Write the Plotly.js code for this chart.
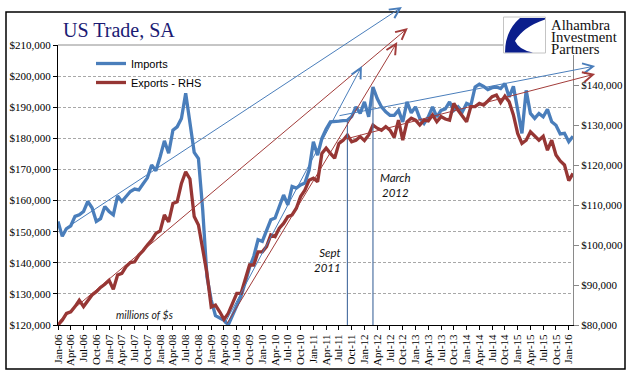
<!DOCTYPE html>
<html>
<head>
<meta charset="utf-8">
<script src="https://cdn.plot.ly/plotly-3.0.1.min.js"></script>
<style>html,body{margin:0;padding:0;background:#fff}#chart{width:641px;height:381px}</style>
</head>
<body>
<div id="chart"></div>
<script>
// ---------------- data ----------------
const months = [
 'Jan-06','Feb-06','Mar-06','Apr-06','May-06','Jun-06','Jul-06','Aug-06','Sep-06','Oct-06','Nov-06','Dec-06',
 'Jan-07','Feb-07','Mar-07','Apr-07','May-07','Jun-07','Jul-07','Aug-07','Sep-07','Oct-07','Nov-07','Dec-07',
 'Jan-08','Feb-08','Mar-08','Apr-08','May-08','Jun-08','Jul-08','Aug-08','Sep-08','Oct-08','Nov-08','Dec-08',
 'Jan-09','Feb-09','Mar-09','Apr-09','May-09','Jun-09','Jul-09','Aug-09','Sep-09','Oct-09','Nov-09','Dec-09',
 'Jan-10','Feb-10','Mar-10','Apr-10','May-10','Jun-10','Jul-10','Aug-10','Sep-10','Oct-10','Nov-10','Dec-10',
 'Jan-11','Feb-11','Mar-11','Apr-11','May-11','Jun-11','Jul-11','Aug-11','Sep-11','Oct-11','Nov-11','Dec-11',
 'Jan-12','Feb-12','Mar-12','Apr-12','May-12','Jun-12','Jul-12','Aug-12','Sep-12','Oct-12','Nov-12','Dec-12',
 'Jan-13','Feb-13','Mar-13','Apr-13','May-13','Jun-13','Jul-13','Aug-13','Sep-13','Oct-13','Nov-13','Dec-13',
 'Jan-14','Feb-14','Mar-14','Apr-14','May-14','Jun-14','Jul-14','Aug-14','Sep-14','Oct-14','Nov-14','Dec-14',
 'Jan-15','Feb-15','Mar-15','Apr-15','May-15','Jun-15','Jul-15','Aug-15','Sep-15','Oct-15','Nov-15','Dec-15',
 'Jan-16','Feb-16'];

const tickLabels = [
 'Jan-06','Apr-06','Jul-06','Oct-06','Jan-07','Apr-07','Jul-07','Oct-07','Jan-08','Apr-08','Jul-08','Oct-08',
 'Jan-09','Apr-09','Jul-09','Oct-09','Jan-10','Apr-10','Jul-10','Oct-10','Jan-11','Apr-11','Jul-11','Oct-11',
 'Jan-12','Apr-12','Jul-12','Oct-12','Jan-13','Apr-13','Jul-13','Oct-13','Jan-14','Apr-14','Jul-14','Oct-14',
 'Jan-15','Apr-15','Jul-15','Oct-15','Jan-16'];

// millions of $ (left axis)
const imports = [
 153300,148500,151000,151900,154900,155400,156500,159700,157700,153300,154200,158100,
 156500,155400,161500,159700,161300,162900,163700,163400,165400,167300,171400,169600,
 174100,179200,175200,182600,183700,186400,194500,184500,175500,173500,157000,135500,
 128000,123000,122200,121500,120000,122900,126300,129300,133700,138500,142100,147400,
 146900,150100,153800,154400,158100,161800,158600,164500,164000,165000,165600,169800,
 178900,174600,180000,183000,185300,185300,185500,185700,185800,187000,190100,188000,
 191700,186900,196500,192800,190100,188500,187400,187400,189000,185300,191700,188200,
 190100,186400,184800,186900,190100,186900,189000,189500,191700,189000,190100,188500,
 191200,190600,196500,197400,196700,195700,196300,196500,196000,197600,193300,196700,
 189000,181600,195400,188000,186400,188000,186900,189300,185300,184200,181400,181600,
 178900,180700];

// millions of $ (right axis)
const exportsRHS = [
 80000,81200,82900,83300,84600,86200,84600,86200,87500,88300,89400,90200,
 91200,88900,92500,92900,94600,95600,95800,97500,98600,100000,101200,102900,
 103500,107500,105800,110400,110800,115400,118300,116500,107100,105000,98700,92900,
 84500,85000,83300,81400,82900,85400,87900,87900,91200,95000,95000,98300,
 98300,99600,102500,102100,104200,105400,107100,107500,109200,112100,113700,116200,
 116700,115800,122900,124200,122900,121700,125400,126200,127500,125800,126200,127100,
 126100,127500,130000,129200,128700,129600,128700,126900,131200,126200,130800,131700,
 131200,130000,131200,131000,132500,130800,132100,131500,131200,135400,133700,132100,
 130800,134600,134600,135400,135000,136000,137100,137500,135600,137200,135800,132500,
 127900,125400,126200,128300,127100,126200,127200,123700,126200,122500,121000,120000,
 116100,117900];

// right-axis ticks
const rhsTickVals = [80000, 90000, 100000, 110000, 120000, 130000, 140000];
const rhsTickText = ['$80,000', '$90,000', '$100,000', '$110,000', '$120,000', '$130,000', '$140,000'];

// event markers
const eventMonths = ['Sep-11', 'Mar-12'];
const eventLabels = ['Sept<br>2011', 'March<br>2012'];

// hand-drawn trend arrows: [month index, value] for tail and head, and the axis used
const trendSeries = ['imports', 'exports', 'imports', 'exports', 'imports', 'exports'];
const trendTail = [[1.2,150500],[0,80750],[39.0,120000],[39.5,80000],[65.8,187200],[65.8,126000]];
const trendHead = [[80.8,222200],[82.2,154250],[71.4,203250],[79.7,150750],[126.2,203250],[126.2,142750]];

// ---------------- styling ----------------
const W = 641, H = 381, L = 58, R = 68, T = 45, B = 56;
const PW = W - L - R, PH = H - T - B;
const PX = x => (x - L) / PW;
const PY = y => (H - B - y) / PH;

const BLUE = '#4a7ebb', RED = '#963634';
const SERIF = 'Liberation Serif, Times New Roman, serif';
const SANS = 'Liberation Sans, Arial, sans-serif';
const ITAL = 'Lato, Carlito, Liberation Sans, sans-serif';

const traces = [
  {x: months, y: imports, name: 'Imports', type: 'scatter', mode: 'lines',
   line: {color: BLUE, width: 3.3}, yaxis: 'y', hoverinfo: 'skip'},
  {x: months, y: exportsRHS, name: 'Exports - RHS', type: 'scatter', mode: 'lines',
   line: {color: RED, width: 3.3}, yaxis: 'y2', hoverinfo: 'skip'}
];

const shapes = [];
const annotations = [];

// vertical event lines from axis up to the imports line
eventMonths.forEach((m) => {
  const i = months.indexOf(m);
  shapes.push({type: 'line', xref: 'x', yref: 'y', x0: i, x1: i, y0: 120000, y1: imports[i],
    line: {color: '#4f73a3', width: 1.2}, layer: 'above'});
});

// plot-area top border
shapes.push({type: 'line', xref: 'paper', yref: 'paper', x0: 0, x1: 1, y0: 1, y1: 1,
  line: {color: '#8c8c8c', width: 1}, layer: 'above'});

// outer chart border
shapes.push({type: 'rect', xref: 'paper', yref: 'paper', x0: PX(6), x1: PX(625), y0: PY(369), y1: PY(12),
  line: {color: '#000', width: 1.5}, fillcolor: 'rgba(0,0,0,0)', layer: 'above'});

// logo background + box
shapes.push({type: 'rect', xref: 'paper', yref: 'paper', x0: PX(546), x1: PX(623), y0: PY(55), y1: PY(15),
  line: {width: 0}, fillcolor: '#fff', layer: 'above'});
shapes.push({type: 'rect', xref: 'paper', yref: 'paper', x0: PX(503.5), x1: PX(545.5), y0: PY(53), y1: PY(17),
  line: {color: '#c4c4c4', width: 1}, fillcolor: '#fff', layer: 'above'});
const p = (x, y) => PX(x).toFixed(4) + ',' + PY(y).toFixed(4);
shapes.push({type: 'path', xref: 'paper', yref: 'paper', layer: 'above',
  path: 'M' + p(520,18) + ' L' + p(545,18) + ' L' + p(545,19.5) + ' Q' + p(523,27) + ' ' + p(515,41) +
        ' Q' + p(519,50) + ' ' + p(533,52.5) + ' L' + p(505,52.5) + ' Q' + p(505,31) + ' ' + p(520,18) + ' Z',
  fillcolor: '#0b1e8c', line: {width: 0}});

// trend arrows
trendSeries.forEach((s, k) => {
  const yr = s === 'imports' ? 'y' : 'y2';
  annotations.push({xref: 'x', yref: yr, axref: 'x', ayref: yr,
    x: trendHead[k][0], y: trendHead[k][1], ax: trendTail[k][0], ay: trendTail[k][1],
    text: '', showarrow: true, arrowhead: 5, arrowsize: 2, arrowwidth: 1,
    arrowcolor: s === 'imports' ? BLUE : '#a23c3a', standoff: 0, startstandoff: 0});
});

// event labels
annotations.push({xref: 'paper', yref: 'paper', x: PX(343), y: PY(260), xanchor: 'right', yanchor: 'middle',
  align: 'right', text: '<i>' + eventLabels[0] + '</i>', showarrow: false,
  font: {family: ITAL, size: 11.5, color: '#111'}});
annotations.push({xref: 'paper', yref: 'paper', x: PX(395), y: PY(185), xanchor: 'center', yanchor: 'middle',
  align: 'center', text: '<i>' + eventLabels[1] + '</i>', showarrow: false,
  font: {family: ITAL, size: 11.5, color: '#111'}});
annotations.push({xref: 'paper', yref: 'paper', x: PX(144), y: PY(315), xanchor: 'center', yanchor: 'middle',
  text: '<i>millions of $s</i>', showarrow: false, font: {family: ITAL, size: 10.5, color: '#222'}});

// logo text
['Alhambra', 'Investment', 'Partners'].forEach((t, k) => {
  annotations.push({xref: 'paper', yref: 'paper', x: PX(550), y: PY(25 + k * 12), xanchor: 'left', yanchor: 'middle',
    text: t, showarrow: false, borderpad: 0, font: {family: SERIF, size: 14.8, color: '#111'}});
});

const layout = {
  width: W, height: H,
  margin: {l: L, r: R, t: T, b: B, pad: 0},
  paper_bgcolor: '#fff', plot_bgcolor: '#fff',
  showlegend: true,
  legend: {x: PX(91), y: PY(49), xanchor: 'left', yanchor: 'top', bgcolor: 'rgba(0,0,0,0)',
    font: {family: SANS, size: 11, color: '#000'}, tracegroupgap: 0},
  title: {text: 'US Trade, SA', font: {family: SERIF, size: 20, color: '#1b1b74'},
    xref: 'paper', x: PX(63), xanchor: 'left', yref: 'container', y: 1 - 30 / H, yanchor: 'middle'},
  xaxis: {type: 'category', range: [0, months.length - 1], tickmode: 'array',
    tickvals: tickLabels, ticktext: tickLabels, tickangle: -90,
    tickfont: {family: SERIF, size: 11, color: '#000'},
    showline: true, linecolor: '#000', linewidth: 1, ticks: 'outside', ticklen: 4, tickcolor: '#000',
    showgrid: false, zeroline: false, automargin: false, fixedrange: true},
  yaxis: {range: [120000, 210000], dtick: 10000, tick0: 120000, tickprefix: '$', tickformat: ',.0f',
    tickfont: {family: SERIF, size: 11, color: '#000'},
    showline: true, linecolor: '#000', linewidth: 1, ticks: 'outside', ticklen: 4, tickcolor: '#000',
    showgrid: true, gridcolor: '#a8a8a8', gridwidth: 1, griddash: '3px,2px',
    zeroline: false, automargin: false, fixedrange: true},
  yaxis2: {overlaying: 'y', side: 'right', range: [80000, 150000], tickmode: 'array',
    tickvals: rhsTickVals, ticktext: rhsTickText,
    tickfont: {family: SERIF, size: 11, color: '#000'},
    showline: true, linecolor: '#8a8a8a', linewidth: 1, ticks: 'outside', ticklen: 5, tickcolor: '#8a8a8a',
    showgrid: false, zeroline: false, automargin: false, fixedrange: true},
  shapes: shapes,
  annotations: annotations
};

Plotly.newPlot('chart', traces, layout, {staticPlot: true, displayModeBar: false});
</script>
</body>
</html>
